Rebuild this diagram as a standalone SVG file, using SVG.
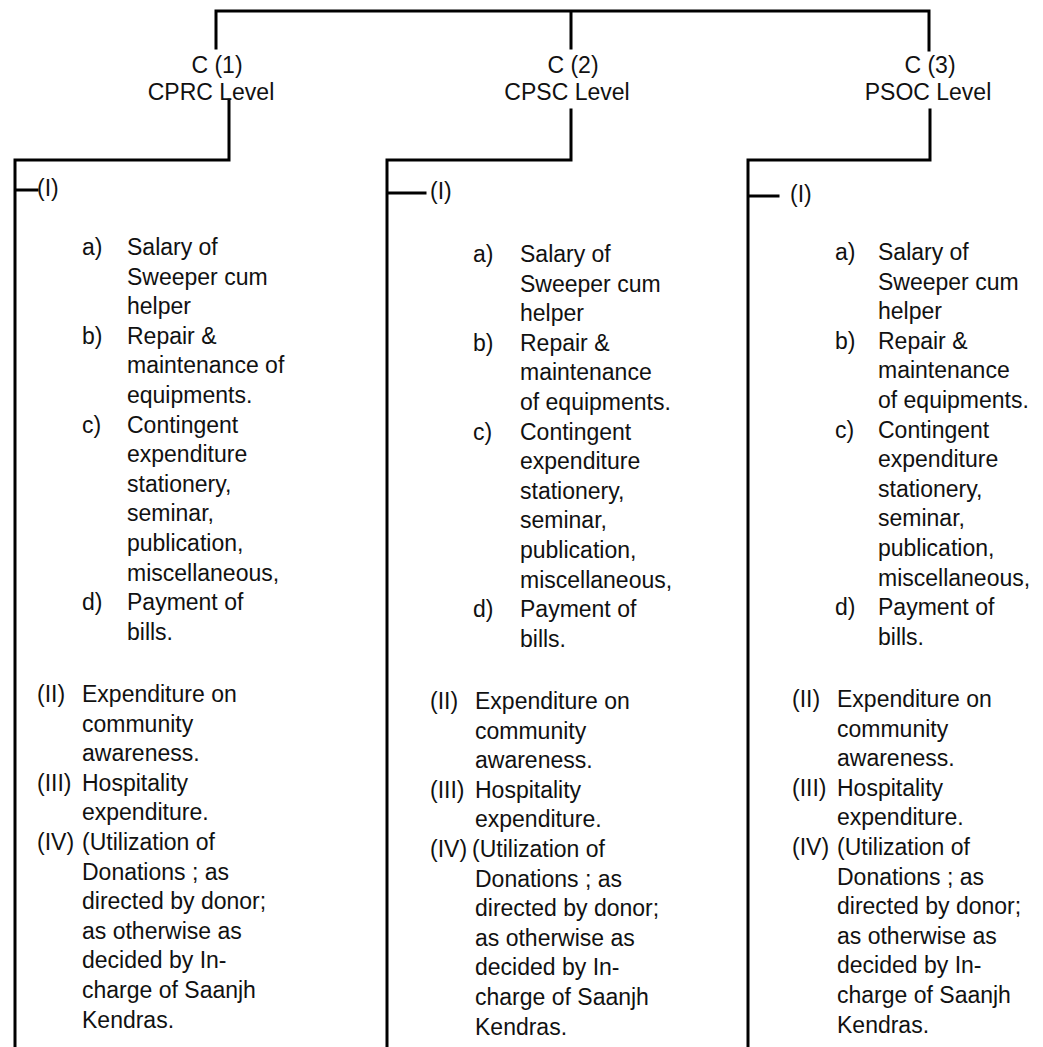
<svg xmlns="http://www.w3.org/2000/svg" width="1043" height="1047" viewBox="0 0 1043 1047">
<style>
.t{font-family:"Liberation Sans",Arial,sans-serif;font-size:23px;fill:#111}
.h{text-anchor:middle}
.ln{stroke:#000;stroke-width:3;fill:none;stroke-linecap:square}
</style>
<rect width="1043" height="1047" fill="#fff"/>
<g id="connectors">
<path class="ln" d="M216 48V11H929V50M571 11V48"/>
<path class="ln" d="M229 100V160H15V1047M15 190H37"/>
<path class="ln" d="M571 110V160H387V1047M387 193H425"/>
<path class="ln" d="M930 110V160H748V1047M748 196H778"/>
</g>
<g id="c1-head"><text class="t h" x="217" y="73">C (1)</text><text class="t h" x="211" y="100">CPRC Level</text></g>
<g id="c2-head"><text class="t h" x="573" y="73">C (2)</text><text class="t h" x="567" y="100">CPSC Level</text></g>
<g id="c3-head"><text class="t h" x="930" y="73">C (3)</text><text class="t h" x="928" y="100">PSOC Level</text></g>
<g id="c1-list">
<text class="t" x="37" y="196">(I)</text>
<text class="t"><tspan x="82" y="255">a)</tspan><tspan x="82" y="344">b)</tspan><tspan x="82" y="433">c)</tspan><tspan x="82" y="610">d)</tspan></text>
<text class="t"><tspan x="127" y="255">Salary of</tspan><tspan x="127" y="285">Sweeper cum</tspan><tspan x="127" y="314">helper</tspan><tspan x="127" y="344">Repair &amp;</tspan><tspan x="127" y="373">maintenance of</tspan><tspan x="127" y="403">equipments.</tspan><tspan x="127" y="433">Contingent</tspan><tspan x="127" y="462">expenditure</tspan><tspan x="127" y="492">stationery,</tspan><tspan x="127" y="521">seminar,</tspan><tspan x="127" y="551">publication,</tspan><tspan x="127" y="581">miscellaneous,</tspan><tspan x="127" y="610">Payment of</tspan><tspan x="127" y="640">bills.</tspan></text>
<text class="t"><tspan x="37" y="702">(II)</tspan><tspan x="37" y="791">(III)</tspan><tspan x="37" y="850">(IV)</tspan></text>
<text class="t"><tspan x="82" y="702">Expenditure on</tspan><tspan x="82" y="732">community</tspan><tspan x="82" y="761">awareness.</tspan><tspan x="82" y="791">Hospitality</tspan><tspan x="82" y="820">expenditure.</tspan><tspan x="82" y="850">(Utilization of</tspan><tspan x="82" y="880">Donations ; as</tspan><tspan x="82" y="909">directed by donor;</tspan><tspan x="82" y="939">as otherwise as</tspan><tspan x="82" y="968">decided by In-</tspan><tspan x="82" y="998">charge of Saanjh</tspan><tspan x="82" y="1028">Kendras.</tspan></text>
</g>
<g id="c2-list">
<text class="t" x="430" y="199">(I)</text>
<text class="t"><tspan x="473" y="262">a)</tspan><tspan x="473" y="351">b)</tspan><tspan x="473" y="440">c)</tspan><tspan x="473" y="617">d)</tspan></text>
<text class="t"><tspan x="520" y="262">Salary of</tspan><tspan x="520" y="292">Sweeper cum</tspan><tspan x="520" y="321">helper</tspan><tspan x="520" y="351">Repair &amp;</tspan><tspan x="520" y="380">maintenance</tspan><tspan x="520" y="410">of equipments.</tspan><tspan x="520" y="440">Contingent</tspan><tspan x="520" y="469">expenditure</tspan><tspan x="520" y="499">stationery,</tspan><tspan x="520" y="528">seminar,</tspan><tspan x="520" y="558">publication,</tspan><tspan x="520" y="588">miscellaneous,</tspan><tspan x="520" y="617">Payment of</tspan><tspan x="520" y="647">bills.</tspan></text>
<text class="t"><tspan x="430" y="709">(II)</tspan><tspan x="430" y="798">(III)</tspan><tspan x="430" y="857">(IV)</tspan></text>
<text class="t"><tspan x="475" y="709">Expenditure on</tspan><tspan x="475" y="739">community</tspan><tspan x="475" y="768">awareness.</tspan><tspan x="475" y="798">Hospitality</tspan><tspan x="475" y="827">expenditure.</tspan><tspan x="472" y="857">(Utilization of</tspan><tspan x="475" y="887">Donations ; as</tspan><tspan x="475" y="916">directed by donor;</tspan><tspan x="475" y="946">as otherwise as</tspan><tspan x="475" y="975">decided by In-</tspan><tspan x="475" y="1005">charge of Saanjh</tspan><tspan x="475" y="1035">Kendras.</tspan></text>
</g>
<g id="c3-list">
<text class="t" x="790" y="202">(I)</text>
<text class="t"><tspan x="835" y="260">a)</tspan><tspan x="835" y="349">b)</tspan><tspan x="835" y="438">c)</tspan><tspan x="835" y="615">d)</tspan></text>
<text class="t"><tspan x="878" y="260">Salary of</tspan><tspan x="878" y="290">Sweeper cum</tspan><tspan x="878" y="319">helper</tspan><tspan x="878" y="349">Repair &amp;</tspan><tspan x="878" y="378">maintenance</tspan><tspan x="878" y="408">of equipments.</tspan><tspan x="878" y="438">Contingent</tspan><tspan x="878" y="467">expenditure</tspan><tspan x="878" y="497">stationery,</tspan><tspan x="878" y="526">seminar,</tspan><tspan x="878" y="556">publication,</tspan><tspan x="878" y="586">miscellaneous,</tspan><tspan x="878" y="615">Payment of</tspan><tspan x="878" y="645">bills.</tspan></text>
<text class="t"><tspan x="792" y="707">(II)</tspan><tspan x="792" y="796">(III)</tspan><tspan x="792" y="855">(IV)</tspan></text>
<text class="t"><tspan x="837" y="707">Expenditure on</tspan><tspan x="837" y="737">community</tspan><tspan x="837" y="766">awareness.</tspan><tspan x="837" y="796">Hospitality</tspan><tspan x="837" y="825">expenditure.</tspan><tspan x="837" y="855">(Utilization of</tspan><tspan x="837" y="885">Donations ; as</tspan><tspan x="837" y="914">directed by donor;</tspan><tspan x="837" y="944">as otherwise as</tspan><tspan x="837" y="973">decided by In-</tspan><tspan x="837" y="1003">charge of Saanjh</tspan><tspan x="837" y="1033">Kendras.</tspan></text>
</g>
</svg>
